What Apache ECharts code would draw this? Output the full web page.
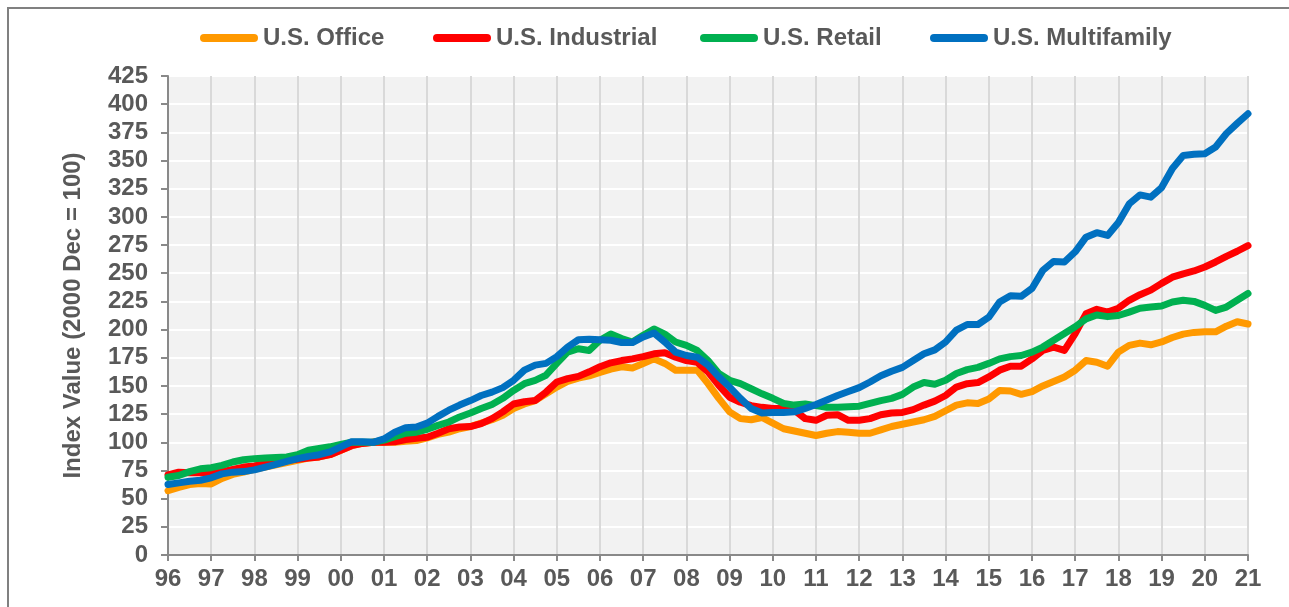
<!DOCTYPE html>
<html>
<head>
<meta charset="utf-8">
<script src="https://cdn.jsdelivr.net/npm/echarts@6/dist/echarts.min.js"></script>
<style>
html,body{margin:0;padding:0;background:#fff;}
#chart{width:1289px;height:607px;}
</style>
</head>
<body>
<div id="chart"></div>
<script>
const yearLabels = ['96','97','98','99','00','01','02','03','04','05','06','07','08','09','10','11','12','13','14','15','16','17','18','19','20','21'];
const seriesNames = ['U.S. Office','U.S. Industrial','U.S. Retail','U.S. Multifamily'];

const office = [
 57,60,62.5,63.5, 63,68,71.5,73.5, 76,78,80,82, 84,86,87,89, 93,97,99,100,
 100,100,101,101.5, 104,107,109,112, 114,117,120,124, 130,134,137,143, 149,154,157,159,
 162,165,167,166, 170,174,170,164, 164,164,152,139, 127,121,120,122, 117,112,110,108,
 106,108,109.5,109, 108,108,111,114, 116,118,120,123, 128,133,135,134.5, 138.5,146,145.5,142.6,
 145,150,154,158, 164,172.5,171,167.5, 180,186,188,186.5, 189,193,196,197.5, 198,198,203,207,
 205];
const industrial = [
 71,73.5,73,73, 72,74,76,78, 79,81,82,84, 85,86,87,89, 93,97,99,100,
 100,100.5,102.5,103.5, 104.5,108,112,113.5, 114,116.5,121,127, 134,136,137,144.5, 153.5,156.5,158.5,162.5,
 167,170.5,172.5,174, 176,178.5,179.5,175.5, 172.5,171,162.5,150.5, 140,135.5,132.5,131, 130,130,128.5,121,
 119.5,124,124.5,119.5, 119.5,121,124.5,126, 126.5,129,133,136.5, 141.5,149,152,153, 158,164,167.5,167.5,
 174,181.5,184.5,181.5, 196.5,214,218,215.5, 219,226,231,235, 241,246.5,249.5,252, 255.5,260,265,269.5,
 274.5];
const retail = [
 69,70.5,74,76.5, 77.5,79.5,82.5,84.5, 85.5,86,86.5,87, 89,93,94.5,96, 98,100,100,100,
 102,105,108,109, 111.5,115,118,122.5, 126,130,133.5,139, 146,152,155,159.5, 170,180,183,181.5,
 190.5,196,192,189, 195,200.5,196,189, 186,181.5,172.5,161, 155,152,147.5,143, 139,134.5,133,134,
 132.5,131,131,131.5, 132,134.5,137,139, 142.5,149,153,151.5, 155,161,164.5,166.5, 170,174,176,177,
 180,184.5,190.5,196.5, 202.5,209.5,213,211.5, 212.5,215.5,219,220, 221,224.5,226,225, 221.5,217,220,226,
 232];
const multifamily = [
 62.5,64,65.5,66.3, 68.5,72,73.5,74, 75.5,78,80.5,83, 85.5,87.5,89,91.5, 96,100.5,100.5,100,
 103,109,113,113.5, 117,123,128.5,133, 137,141.5,144.5,148.5, 155,164,168.5,170, 176,184.5,191,191.5,
 191,190.5,188.5,188.5, 193.5,197,189,180, 177,175.5,168.5,158, 149,139,130,126, 126.5,126.5,127,130,
 133.5,137.5,141.5,145, 148.5,153.5,159,163, 166.5,172.5,178.5,182, 189,199.5,204.5,204.5, 211,224.5,230,229.5,
 236.5,252.5,260.5,260, 269,282,286,283.5, 295,311.5,319.5,317.5, 326,343,354.5,355.5, 356,362,374,383,
 391.5];

const colors = ['#FF9900','#FF0000','#00B050','#0070C0'];
const quarters = office.map((_, i) => yearLabels[Math.floor(i/4)] + ' Q' + (i%4+1));
const allData = [office, industrial, retail, multifamily];

const chart = echarts.init(document.getElementById('chart'), null, {renderer:'canvas'});
const font = 'Liberation Sans, Arial, sans-serif';
const txt = '#595959';
const axisCol = '#898989';
const legendLefts = [200, 433, 700, 930];

chart.setOption({
  animation: false,
  backgroundColor: '#ffffff',
  graphic: [{
    type: 'polyline',
    shape: {points: [[8,607],[8,8],[1289,8]]},
    style: {stroke: '#808080', lineWidth: 2, fill: null},
    silent: true
  }],
  legend: seriesNames.map((n, k) => ({
    left: legendLefts[k], top: 26, padding: 0,
    itemWidth: 58, itemHeight: 8,
    icon: 'path://M4,0 H54 A4,4 0 0 1 54,8 H4 A4,4 0 0 1 4,0 Z',
    textStyle: {fontFamily: font, fontWeight: 'bold', fontSize: 24, color: txt},
    data: [n]
  })),
  grid: {left: 168, right: 41, top: 76, bottom: 52, show: true, backgroundColor: '#F2F2F2', borderWidth: 0},
  xAxis: {
    type: 'category', boundaryGap: false, data: quarters,
    axisLine: {lineStyle: {color: axisCol, width: 2}},
    axisTick: {show: true, interval: 3, length: 6, lineStyle: {color: axisCol, width: 2}},
    axisLabel: {interval: 3, margin: 12, formatter: v => v.split(' ')[0],
      fontFamily: font, fontWeight: 'bold', fontSize: 24, color: txt},
    splitLine: {show: true, interval: 3, lineStyle: {color: '#D9D9D9', width: 2}}
  },
  yAxis: {
    type: 'value', min: 0, max: 425, interval: 25,
    name: 'Index Value (2000 Dec = 100)', nameLocation: 'middle', nameGap: 83, nameRotate: 90,
    nameTextStyle: {fontFamily: font, fontWeight: 'bold', fontSize: 24, color: txt},
    axisLine: {show: true, lineStyle: {color: axisCol, width: 2}},
    axisTick: {show: true, length: 7, lineStyle: {color: axisCol, width: 2}},
    axisLabel: {margin: 20, fontFamily: font, fontWeight: 'bold', fontSize: 24, color: txt},
    splitLine: {show: true, lineStyle: {color: '#FFFFFF', width: 2}}
  },
  series: seriesNames.map((n, k) => ({
    name: n, type: 'line', data: allData[k], symbol: 'none',
    lineStyle: {width: 7, color: colors[k], cap: 'round', join: 'round'},
    itemStyle: {color: colors[k]}
  }))
});
</script>
</body>
</html>
